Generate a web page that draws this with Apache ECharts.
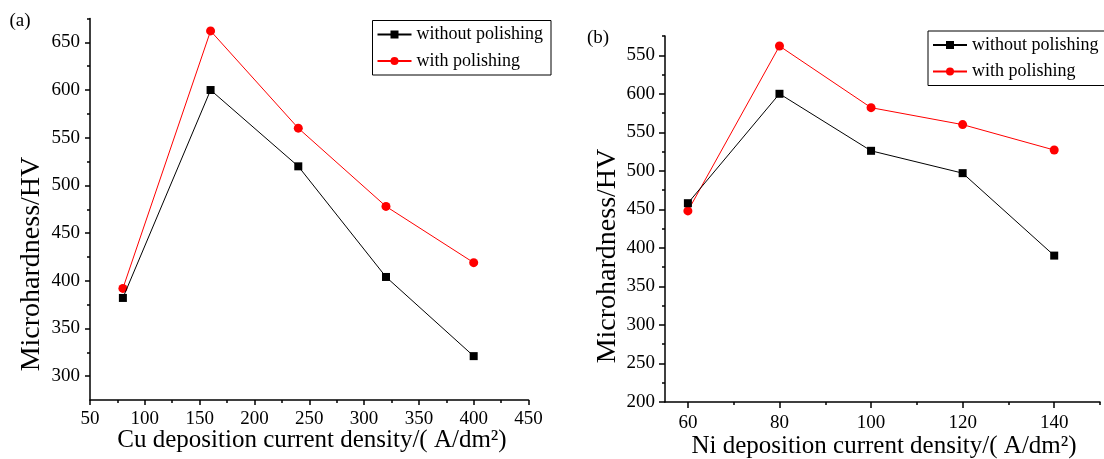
<!DOCTYPE html>
<html>
<head>
<meta charset="utf-8">
<script src="https://cdn.jsdelivr.net/npm/echarts@6/dist/echarts.min.js"></script>
<style>html,body{margin:0;padding:0;background:#fff}#c{width:1104px;height:459px}</style>
</head>
<body>
<div id="c"></div>
<script>
// ---- data ----
const seriesNames = ['without polishing', 'with polishing'];
const xA = [80, 160, 240, 320, 400];
const withoutA = [382, 600, 520, 404, 321];
const withA = [392, 662, 560, 478, 419];
const xB = [60, 80, 100, 120, 140];
const withoutB = [458, 600, 526, 497, 390];
const withB = [448, 662, 582, 560, 527];
const xTicksA = [50, 100, 150, 200, 250, 300, 350, 400, 450];
const xMinorA = [75, 125, 175, 225, 275, 325, 375, 425];
const yTicksA = [300, 350, 400, 450, 500, 550, 600, 650];
const yLabelsA = ['300', '350', '400', '450', '500', '550', '600', '650'];
const yMinorA = [325, 375, 425, 475, 525, 575, 625, 675];
const xTicksB = [60, 80, 100, 120, 140];
const xMinorB = [70, 90, 110, 130, 150];
const yTicksB = [200, 250, 300, 350, 400, 450, 500, 550, 600, 650];
const yLabelsB = ['200', '250', '300', '350', '400', '450', '500', '550', '600', '550'];
const yMinorB = [225, 275, 325, 375, 425, 475, 525, 575, 625, 675];
const titleA = { x: 'Cu deposition current density/( A/dm²)', y: 'Microhardness/HV', tag: '(a)' };
const titleB = { x: 'Ni deposition current density/( A/dm²)', y: 'Microhardness/HV', tag: '(b)' };

const FONT = 'Liberation Serif';
const chart = echarts.init(document.getElementById('c'));

function mainAxis(dim, grid, min, max, ticks, labels, margin, tickLen) {
  return {
    type: 'value', gridIndex: grid, min: min, max: max,
    position: dim === 'x' ? 'bottom' : 'left',
    axisLine: { show: true, onZero: false, lineStyle: { color: '#000', width: 1.5 } },
    axisTick: { show: true, inside: false, length: tickLen, customValues: ticks, lineStyle: { color: '#000', width: 1.5 } },
    axisLabel: {
      show: true, customValues: ticks, margin: margin, color: '#000', fontFamily: FONT, fontSize: 19,
      formatter: function (v) { const i = ticks.indexOf(v); return i >= 0 ? labels[i] : ''; }
    },
    splitLine: { show: false }
  };
}
function minorAxis(dim, grid, min, max, ticks) {
  return {
    type: 'value', gridIndex: grid, min: min, max: max,
    position: dim === 'x' ? 'bottom' : 'left',
    axisLine: { show: false, onZero: false },
    axisTick: { show: true, inside: false, length: 3, customValues: ticks, lineStyle: { color: '#000', width: 1.5 } },
    axisLabel: { show: false },
    splitLine: { show: false }
  };
}
function pairs(xs, ys) { return xs.map((x, i) => [x, ys[i]]); }
function lineSeries(name, xi, yi, data, color, symbol, size) {
  return {
    name: name, type: 'line', xAxisIndex: xi, yAxisIndex: yi, data: data,
    symbol: symbol, symbolSize: size, showSymbol: true,
    lineStyle: { color: color, width: 1 }, itemStyle: { color: color },
    emphasis: { disabled: true }, animation: false, z: color === '#ff0000' ? 3 : 4
  };
}
function legend(left, top) {
  return {
    left: left, top: top, orient: 'vertical', data: seriesNames,
    itemWidth: 34, itemHeight: 10, itemGap: 8.5, padding: [5, 8, 5, 4],
    borderColor: '#000', borderWidth: 1, backgroundColor: '#fff',
    textStyle: { fontFamily: FONT, fontSize: 18, color: '#000' }, selectedMode: false
  };
}
function txt(text, x, y, size, opts) {
  return Object.assign({
    type: 'text', x: x, y: y,
    style: { text: text, fontFamily: FONT, fontSize: size, fill: '#000', align: 'center', verticalAlign: 'middle' }
  }, opts || {});
}

chart.setOption({
  animation: false,
  backgroundColor: '#fff',
  grid: [
    { left: 90, top: 18.5, width: 438.5, height: 381.5 },
    { left: 665, top: 36, width: 435, height: 366 }
  ],
  xAxis: [
    mainAxis('x', 0, 50, 450, xTicksA, xTicksA.map(String), 10, 5),
    minorAxis('x', 0, 50, 450, xMinorA),
    mainAxis('x', 1, 55, 150, xTicksB, xTicksB.map(String), 12, 6),
    minorAxis('x', 1, 55, 150, xMinorB)
  ],
  yAxis: [
    mainAxis('y', 0, 275, 675, yTicksA, yLabelsA, 10, 5),
    minorAxis('y', 0, 275, 675, yMinorA),
    mainAxis('y', 1, 200, 675, yTicksB, yLabelsB, 10, 6),
    minorAxis('y', 1, 200, 675, yMinorB)
  ],
  legend: [legend(372.5, 20.5), legend(928, 31)],
  series: [
    lineSeries(seriesNames[0], 0, 0, pairs(xA, withoutA), '#000000', 'rect', 8),
    lineSeries(seriesNames[1], 0, 0, pairs(xA, withA), '#ff0000', 'circle', 9),
    lineSeries(seriesNames[0], 2, 2, pairs(xB, withoutB), '#000000', 'rect', 8),
    lineSeries(seriesNames[1], 2, 2, pairs(xB, withB), '#ff0000', 'circle', 9)
  ],
  graphic: [
    txt(titleA.tag, 20, 21, 19),
    txt(titleB.tag, 598, 38, 19),
    txt(titleA.y, 32, 264, 28, { rotation: Math.PI / 2 }),
    txt(titleB.y, 608, 256, 28, { rotation: Math.PI / 2 }),
    txt(titleA.x, 312, 440, 25),
    txt(titleB.x, 884, 446, 25)
  ]
});
</script>
</body>
</html>
